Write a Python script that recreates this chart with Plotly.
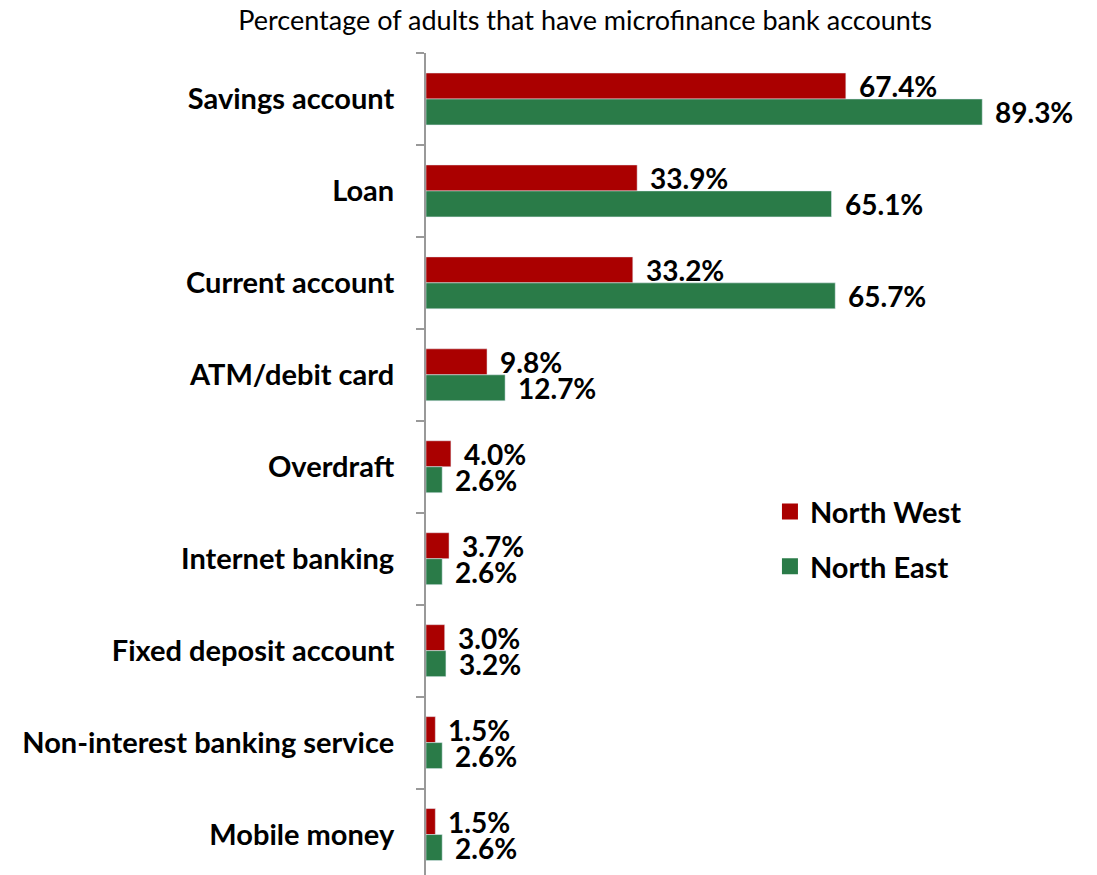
import plotly.graph_objects as go

categories = [
    "Savings account",
    "Loan",
    "Current account",
    "ATM/debit card",
    "Overdraft",
    "Internet banking",
    "Fixed deposit account",
    "Non-interest banking service",
    "Mobile money",
]
north_west = [67.4, 33.9, 33.2, 9.8, 4.0, 3.7, 3.0, 1.5, 1.5]
north_east = [89.3, 65.1, 65.7, 12.7, 2.6, 2.6, 3.2, 2.6, 2.6]

RED = "#AA0000"
GREEN = "#2A7B48"
FONT = "Lato"

fig = go.Figure()
fig.add_trace(go.Bar(y=categories, x=north_west, orientation="h", name="North West",
                     marker_color=RED, showlegend=False))
fig.add_trace(go.Bar(y=categories, x=north_east, orientation="h", name="North East",
                     marker_color=GREEN, showlegend=False))

# legend entries with bigger square swatches than the default bar icon
for name, color, grp in (("North West", RED, "nw"), ("North East", GREEN, "ne")):
    fig.add_trace(go.Scatter(x=[None], y=[None], mode="markers", name=name, legendgroup=grp,
                             marker=dict(symbol="square", size=18, color=color)))

# value labels just right of each bar
for vals, shift in ((north_west, 13), (north_east, -13)):
    for cat, v in zip(categories, vals):
        fig.add_annotation(x=v, y=cat, text=f"{v:.1f}%", showarrow=False,
                           xanchor="left", xshift=11, yshift=shift,
                           font=dict(family=FONT, size=28, color="black", weight="bold"))

fig.update_layout(
    width=1089,
    height=867,
    margin=dict(l=418, r=7, t=45, b=0),
    barmode="group",
    bargap=0.435,
    bargroupgap=0,
    plot_bgcolor="white",
    paper_bgcolor="white",
    title=dict(text="Percentage of adults that have microfinance bank accounts",
               x=0.53, xanchor="center", y=0.986, yanchor="middle",
               font=dict(family=FONT, size=27, color="black")),
    legend=dict(x=0.518, y=0.473, xanchor="left", yanchor="top",
                font=dict(family=FONT, size=29, color="black", weight="bold"),
                tracegroupgap=14, itemwidth=30, bgcolor="rgba(0,0,0,0)"),
    font=dict(family=FONT),
)
fig.update_xaxes(range=[0, 106.6], visible=False, showgrid=False, zeroline=False)
fig.update_yaxes(
    range=[8.44, -0.5],
    tickson="boundaries",
    ticks="outside",
    ticklen=8,
    tickwidth=2,
    tickcolor="#999999",
    showline=True,
    linecolor="#999999",
    linewidth=2,
    showgrid=False,
    ticklabelstandoff=24,
    tickfont=dict(family=FONT, size=29, color="black", weight="bold"),
)

fig.write_html("out.html")
